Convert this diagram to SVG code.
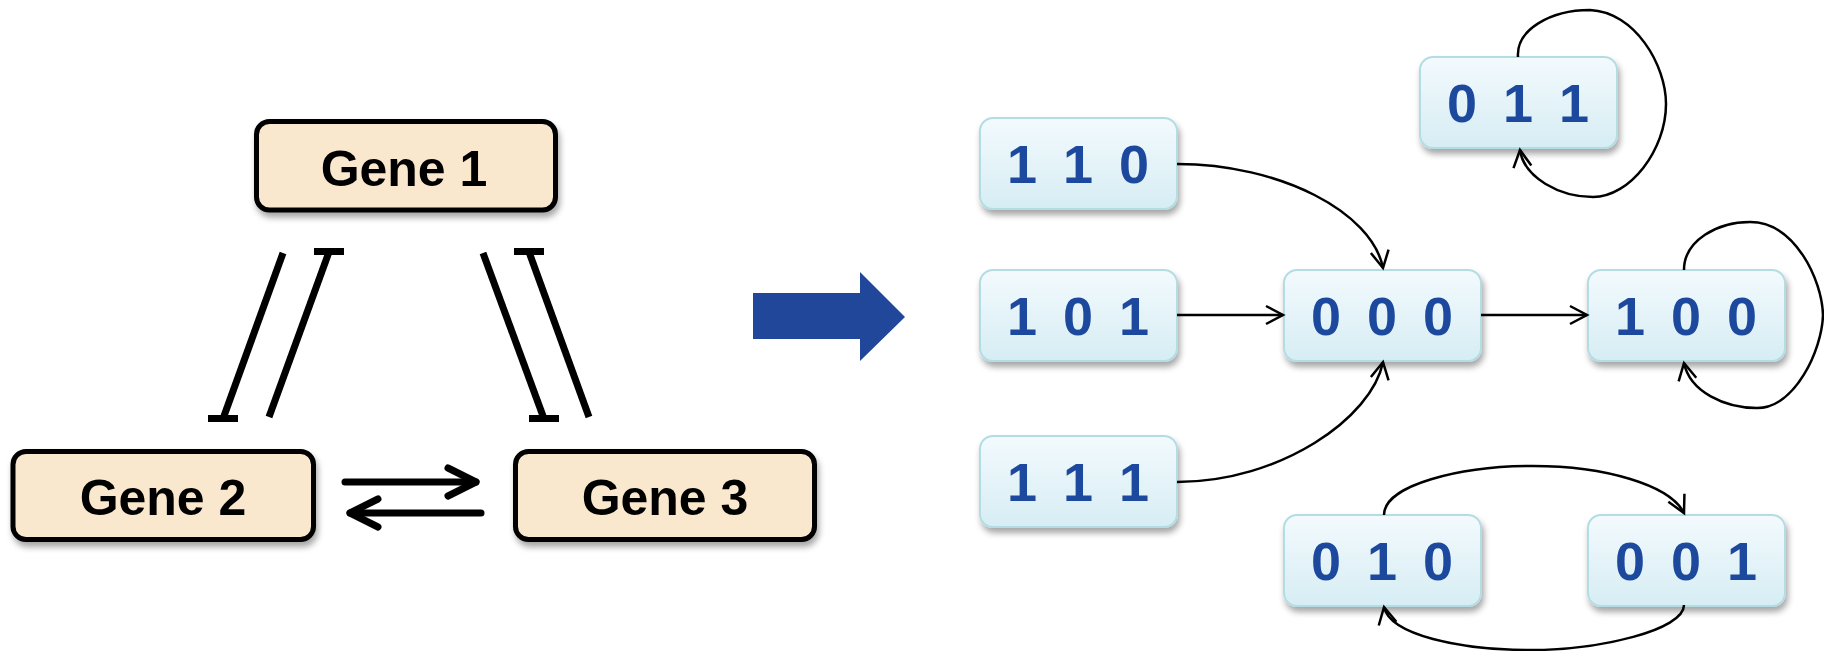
<svg xmlns="http://www.w3.org/2000/svg" width="1824" height="651" viewBox="0 0 1824 651">
<style>
.gene rect{fill:#FAE8CE;stroke:#000;stroke-width:5}
.gene text{font-family:"Comic Sans MS","Liberation Sans",sans-serif;font-weight:bold;font-size:50px;fill:#000;text-anchor:middle}
.state rect{fill:url(#g);stroke:#B3DDE2;stroke-width:2}
.state text{font-family:"Comic Sans MS","Liberation Sans",sans-serif;font-weight:bold;font-size:54px;fill:#1F4A9E;text-anchor:middle}
.inh{stroke:#000;stroke-width:7;fill:none}
.bar{stroke:#000;stroke-width:7;fill:none}
.act{stroke:#000;stroke-width:7;fill:none;stroke-linecap:round;stroke-linejoin:round}
.tr{stroke:#000;stroke-width:2.5;fill:none;marker-end:url(#ah)}
</style>
<defs>
<linearGradient id="g" x1="0" y1="0" x2="0" y2="1">
<stop offset="0" stop-color="#F3FAFD"/>
<stop offset="1" stop-color="#D6EDF4"/>
</linearGradient>
<filter id="sh" x="-10%" y="-10%" width="125%" height="140%">
<feDropShadow dx="2" dy="5" stdDeviation="3" flood-color="#000" flood-opacity="0.35"/>
</filter>
<marker id="ah" markerUnits="userSpaceOnUse" markerWidth="22" markerHeight="22" viewBox="-2 -2 22 22" refX="17" refY="9" orient="auto">
<path d="M0,0 L17,9 L0,18" fill="none" stroke="#000" stroke-width="2.5"/>
</marker>
</defs>

<g id="gene1" class="gene" filter="url(#sh)"><rect x="256.5" y="121.5" width="299" height="88.5" rx="13"/><text x="404" y="186">Gene 1</text></g>
<g id="gene2" class="gene" filter="url(#sh)"><rect x="13" y="451.5" width="300.5" height="88" rx="13"/><text x="163" y="515">Gene 2</text></g>
<g id="gene3" class="gene" filter="url(#sh)"><rect x="515.5" y="451.5" width="299" height="88" rx="13"/><text x="665" y="515">Gene 3</text></g>

<g id="gene-connectors">
<line class="inh" x1="283" y1="253" x2="224" y2="416"/>
<line class="bar" x1="208" y1="418.5" x2="238" y2="418.5"/>
<line class="inh" x1="329" y1="252" x2="269" y2="417"/>
<line class="bar" x1="314" y1="251.5" x2="344" y2="251.5"/>
<line class="inh" x1="483" y1="253" x2="543" y2="416"/>
<line class="bar" x1="529" y1="418.5" x2="559" y2="418.5"/>
<line class="inh" x1="529" y1="252" x2="589" y2="417"/>
<line class="bar" x1="514" y1="251.5" x2="544" y2="251.5"/>
<line class="act" x1="345" y1="482" x2="476" y2="482" stroke-linecap="butt"/>
<polyline class="act" points="448,468 476,482 448,496"/>
<line class="act" x1="481" y1="513" x2="350" y2="513" stroke-linecap="butt"/>
<polyline class="act" points="378,499 350,513 378,527"/>
</g>

<path id="big-arrow" d="M753,293 L860,293 L860,272 L905,317 L860,361 L860,339 L753,339 Z" fill="#21479B"/>

<g id="s110" class="state" filter="url(#sh)"><rect x="980" y="118" width="197" height="91" rx="13"/><text x="1022 1050 1078 1106 1134" y="183">1 1 0</text></g>
<g id="s101" class="state" filter="url(#sh)"><rect x="980" y="270" width="197" height="91" rx="13"/><text x="1022 1050 1078 1106 1134" y="335">1 0 1</text></g>
<g id="s111" class="state" filter="url(#sh)"><rect x="980" y="436" width="197" height="91" rx="13"/><text x="1022 1050 1078 1106 1134" y="501">1 1 1</text></g>
<g id="s000" class="state" filter="url(#sh)"><rect x="1284" y="270" width="197" height="91" rx="13"/><text x="1326 1354 1382 1410 1438" y="335">0 0 0</text></g>
<g id="s100" class="state" filter="url(#sh)"><rect x="1588" y="270" width="197" height="91" rx="13"/><text x="1630 1658 1686 1714 1742" y="335">1 0 0</text></g>
<g id="s011" class="state" filter="url(#sh)"><rect x="1420" y="57" width="197" height="91" rx="13"/><text x="1462 1490 1518 1546 1574" y="122">0 1 1</text></g>
<g id="s010" class="state" filter="url(#sh)"><rect x="1284" y="515" width="197" height="91" rx="13"/><text x="1326 1354 1382 1410 1438" y="580">0 1 0</text></g>
<g id="s001" class="state" filter="url(#sh)"><rect x="1588" y="515" width="197" height="91" rx="13"/><text x="1630 1658 1686 1714 1742" y="580">0 0 1</text></g>

<g id="connectors">
<path class="tr" d="M1177,164 C1280,164 1372,212 1383,268"/>
<line class="tr" x1="1177" y1="315" x2="1283" y2="315"/>
<path class="tr" d="M1177,482 C1280,482 1372,418 1383,362"/>
<line class="tr" x1="1481" y1="315" x2="1587" y2="315"/>
<path class="tr" d="M1518,57 C1516,30 1550,10 1590,10 C1635,12 1666,65 1666,104 C1666,150 1630,197 1593,197 C1560,197 1524,178 1520,150"/>
<path class="tr" d="M1684,270 C1684,240 1718,222 1750,222 C1795,222 1822,280 1823,315 C1822,350 1795,408 1757,408 C1725,408 1690,392 1684,363"/>
<path class="tr" d="M1384,515 C1384,485 1460,466 1533,466 C1605,466 1670,485 1684,513"/>
<path class="tr" d="M1684,605 C1684,630 1600,650 1530,650 C1460,650 1390,635 1384,607"/>
</g>
</svg>
